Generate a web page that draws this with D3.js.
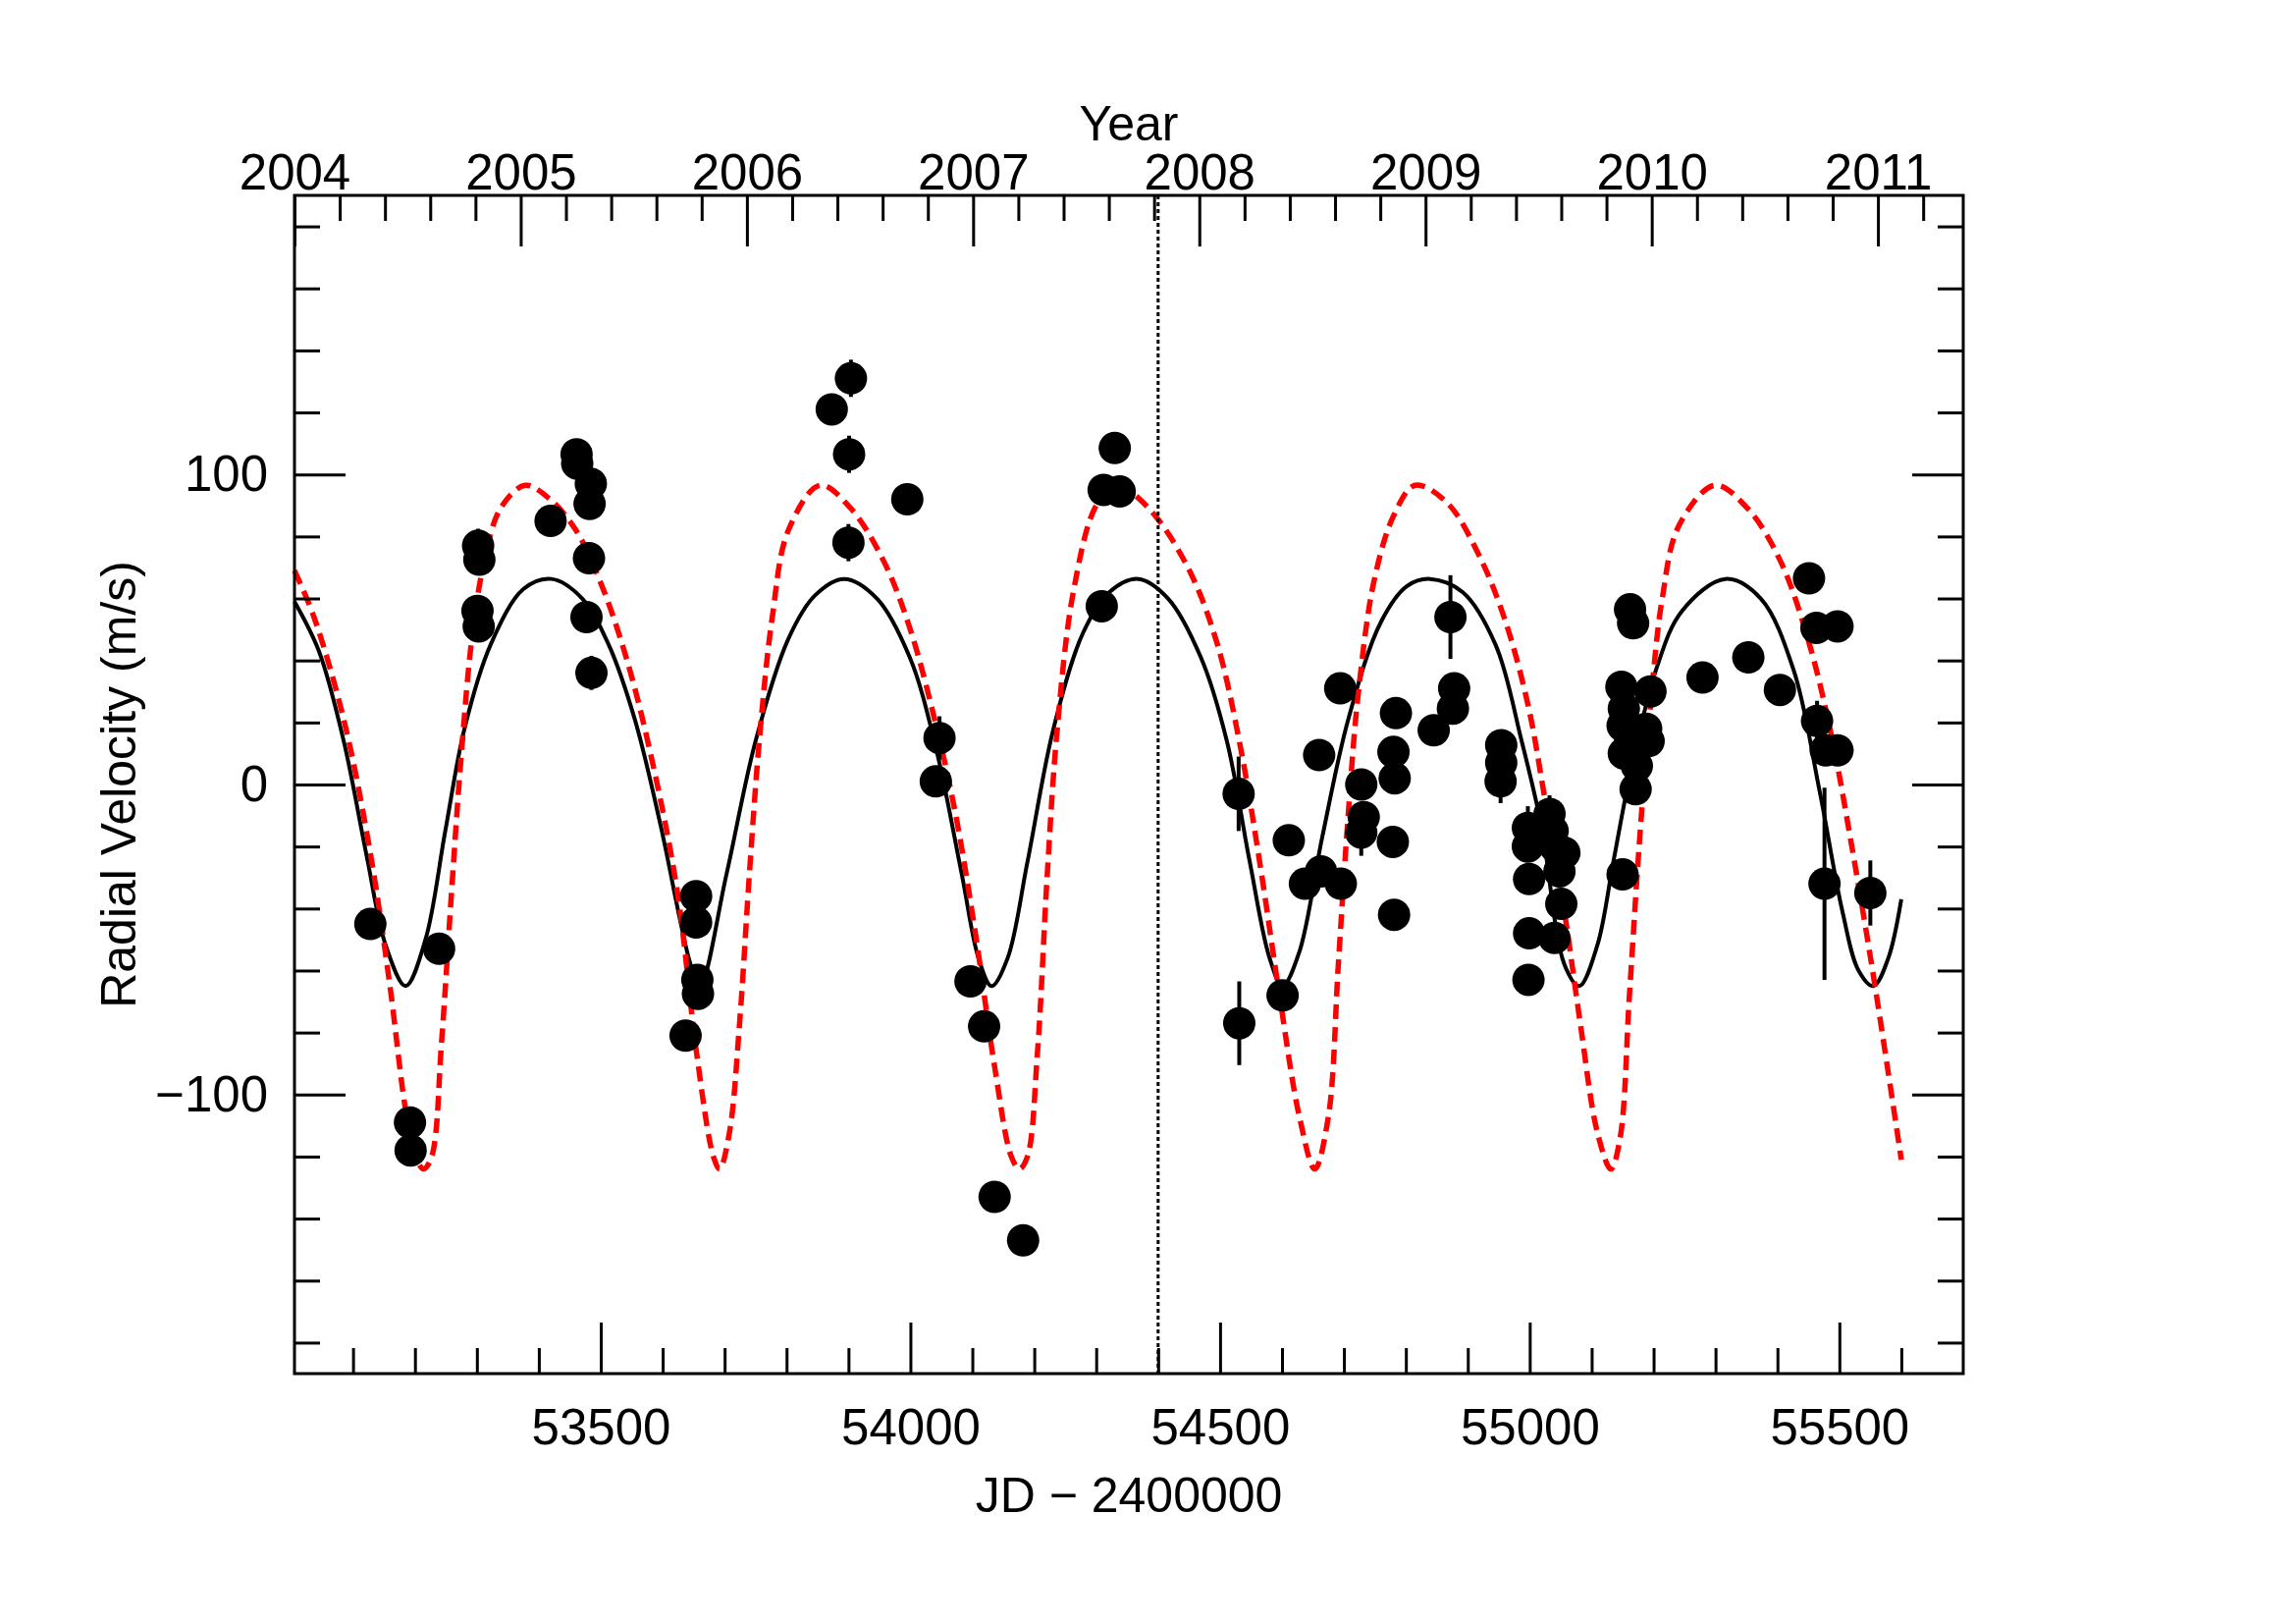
<!DOCTYPE html>
<html>
<head>
<meta charset="utf-8">
<script src="https://cdn.jsdelivr.net/npm/d3@7"></script>
<style>
  body { margin: 0; background: #fff; }
  text { font-family: "Liberation Sans", Arial, Helvetica, sans-serif; fill: #000; }
</style>
</head>
<body>
<svg id="chart" width="2339" height="1653"></svg>
<script>
// observations (JD - 2400000, m/s)
var obsJD = [53128, 53192, 53193, 53239, 53301, 53302, 53303, 53304, 53419, 53461, 53462, 53477,
  53481, 53482, 53484, 53485, 53637, 53654, 53654, 53656, 53657, 53873, 53900, 53901, 53904, 53995,
  54041, 54047, 54097, 54119, 54136, 54182, 54309, 54312, 54330, 54338, 54530, 54531, 54601, 54611,
  54637, 54660, 54663, 54694, 54695, 54728, 54728, 54732, 54779, 54780, 54781, 54782, 54784, 54845,
  54872, 54876, 54878, 54954, 54954, 54953, 54997, 54997, 54999, 54999, 54998, 55032, 55037, 55041,
  55040, 55048, 55051, 55056, 55148, 55150, 55150, 55152, 55152, 55162, 55162, 55167, 55171, 55173,
  55188, 55192, 55195, 55279, 55353, 55404, 55451, 55463, 55464, 55478, 55476, 55497, 55497, 55550];
var obsRV = [-45, -109, -118, -53, 56, 77, 51, 72.5, 85, 106.5, 103.5, 54,
  73, 90.5, 97, 36, -81, -36, -44.5, -63, -67.5, 121, 78, 106.5, 131, 92,
  1, 15, -63.5, -78, -133, -147, 57.5, 95, 108.5, 94.5, -3, -77, -68, -18,
  -32, 9.5, -28, 31, -32, 0, -15.5, -10.5, -18.5, 10.5, -42, 2, 23, 17.5,
  54, 24.5, 31, 12.7, 7, 1, -14, -20, -30.5, -48, -63, -9.5, -15, -20,
  -49.5, -28, -38.5, -22, 31.5, 19, -29, 24.5, 10, 56.5, 15, 52, -1.5, 6,
  18, 14, 30, 34.5, 41, 30.5, 66.5, 50.5, 20.5, 11, -32, 11, 51, -35];
var obsErr = [4, 4, 4, 4, 4, 5.5, 4, 4, 4, 4, 4, 4,
  4, 5, 4, 5.5, 4, 4, 4, 4, 4, 4, 6, 6, 6, 4,
  4, 7, 4, 4, 4, 4, 4, 4, 4, 4, 12, 13.5, 4, 4,
  4, 4, 4, 4, 4, 4, 7.5, 4, 4, 4, 4, 4, 4, 4,
  13.5, 4, 4, 4, 4, 7, 7, 4, 4, 4, 4, 6, 4, 4,
  4, 4, 4, 4, 4, 4, 4, 4, 4, 4, 4, 4, 4, 4,
  4, 4, 4, 4, 4, 4, 4, 4, 6.5, 4, 31, 4, 4, 10.5];

// solid black model curve
var fitJD = [53005.5, 53045, 53085, 53122, 53153, 53185, 53217, 53249, 53280, 53322, 53375, 53420,
  53470, 53513, 53555, 53597, 53629, 53645, 53660, 53703, 53750, 53803, 53846, 53893, 53946, 53999,
  54041, 54083, 54110, 54131, 54157, 54189, 54231, 54279, 54321, 54368, 54416, 54469, 54511, 54548,
  54580, 54601, 54628, 54665, 54707, 54760, 54802, 54839, 54892, 54945, 54987, 55019, 55056, 55080,
  55109, 55135, 55161, 55204, 55246, 55316, 55373, 55426, 55468, 55505, 55531, 55555, 55579, 55600];
var fitRV = [59, 43, 14, -23, -52, -65, -50, -15, 18, 45, 63, 66.3,
  60, 45, 21, -13.5, -44.5, -58, -65, -29, 14, 47, 61, 66.3, 60, 41,
  12, -29, -56, -65, -56, -25, 18, 49, 62, 66.3, 60, 41, 14, -25,
  -56, -65, -54, -17, 21, 52.5, 64, 66.3, 62, 45, 14, -13.5, -58, -65,
  -52, -25, 2, 37, 56, 66.3, 60, 37, -2, -41, -60, -65, -56, -37];

// dashed red model curve
var altJD = [53005.5, 53037, 53085, 53127, 53159, 53185, 53201, 53214, 53227, 53243, 53259, 53275,
  53293, 53312, 53338, 53378, 53418, 53460, 53502, 53544, 53587, 53624, 53655, 53682, 53692, 53708,
  53724, 53740, 53756, 53777, 53803, 53854, 53904, 53957, 53999, 54041, 54073, 54105, 54136, 54163,
  54176, 54189, 54205, 54221, 54237, 54263, 54300, 54332, 54358, 54400, 54453, 54496, 54533, 54564,
  54596, 54628, 54653, 54675, 54691, 54707, 54723, 54749, 54781, 54815, 54866, 54918, 54961, 54998,
  55024, 55056, 55082, 55109, 55131, 55146, 55161, 55177, 55193, 55214, 55241, 55299, 55352, 55405,
  55452, 55489, 55521, 55552, 55579, 55600];
var altRV = [69, 54, 21, -21, -64, -105, -120, -124, -120, -83, -35, 10,
  49, 72, 89, 96.5, 92, 82, 64, 39, 4, -35, -87, -120, -124, -112,
  -77.5, -29, 14, 54, 82, 96.5, 89, 72, 50.5, 19.5, -9.6, -48, -91, -120,
  -124, -120, -87, -29, 17.6, 62, 90, 96.5, 94, 85.5, 68, 45, 12, -25,
  -68, -107, -124, -107, -58, -9.6, 29, 66, 87, 96.5, 91, 74, 52.5, 25,
  -4, -41, -77.5, -112, -124, -114, -68, -19, 21, 60, 83.5, 96.5, 89, 72,
  45, 14, -21, -58, -93, -121];

var markJD = 54400;
var jdMajor = [53500, 54000, 54500, 55000, 55500];
var rvMajor = [-100, 0, 100];
var yearLabels = [2004, 2005, 2006, 2007, 2008, 2009, 2010, 2011];

var plotL = 300, plotR = 2000, plotT = 199, plotB = 1399;
var jdMin = 53005.5, jdMax = 55700;

var svg = d3.select('#chart');
svg.append('rect').attr('width', 2339).attr('height', 1653).attr('fill', '#fff');

var x = d3.scaleLinear().domain([jdMin, jdMax]).range([plotL, plotR]);
var y = d3.scaleLinear().domain([-190, 190]).range([plotB, plotT]);
var yr = d3.scaleLinear().domain([2004, 2004 + (jdMax - jdMin) / 365.25]).range([plotL, plotR]);

var plot = svg.append('g');

// model curves
var line = d3.line().curve(d3.curveCatmullRom.alpha(0.5));
plot.append('path')
  .attr('d', line(fitJD.map((d, i) => [x(d), y(fitRV[i])])))
  .attr('fill', 'none').attr('stroke', '#000').attr('stroke-width', 4);
plot.append('path')
  .attr('d', line(altJD.map((d, i) => [x(d), y(altRV[i])])))
  .attr('fill', 'none').attr('stroke', '#ff0000').attr('stroke-width', 5.5)
  .attr('stroke-dasharray', '15,8');

// dotted marker line
plot.append('line')
  .attr('x1', x(markJD)).attr('x2', x(markJD))
  .attr('y1', plotT).attr('y2', plotB)
  .attr('stroke', '#000').attr('stroke-width', 3).attr('stroke-dasharray', '4,3');

// error bars + points
plot.selectAll('line.err').data(obsJD).enter().append('line')
  .attr('class', 'err')
  .attr('x1', d => x(d)).attr('x2', d => x(d))
  .attr('y1', (d, i) => y(obsRV[i] - obsErr[i]))
  .attr('y2', (d, i) => y(obsRV[i] + obsErr[i]))
  .attr('stroke', '#000').attr('stroke-width', 4);
plot.selectAll('circle').data(obsJD).enter().append('circle')
  .attr('cx', d => x(d)).attr('cy', (d, i) => y(obsRV[i]))
  .attr('r', 16.5).attr('fill', '#000');

// axes
function styleAxis(g) {
  g.select('.domain').remove();
  g.selectAll('line').attr('stroke', '#000').attr('stroke-width', 3);
  g.selectAll('text').style('font-size', '51px').style('font-family', '"Liberation Sans", Arial, sans-serif');
}
var jdMinor = d3.range(53100, jdMax, 100).filter(d => jdMajor.indexOf(d) < 0);
svg.append('g').attr('transform', 'translate(0,' + plotB + ')')
  .call(d3.axisBottom(x).tickValues(jdMinor).tickSize(-26).tickFormat(''))
  .call(styleAxis);
svg.append('g').attr('transform', 'translate(0,' + plotB + ')')
  .call(d3.axisBottom(x).tickValues(jdMajor).tickSize(-52).tickPadding(36).tickFormat(d3.format('d')))
  .call(styleAxis);

var yrMinor = d3.range(1, 37).map(i => 2004 + i / 5).filter(d => Math.abs(d - Math.round(d)) > 0.01);
svg.append('g').attr('transform', 'translate(0,' + plotT + ')')
  .call(d3.axisTop(yr).tickValues(yrMinor).tickSize(-26).tickFormat(''))
  .call(styleAxis);
svg.append('g').attr('transform', 'translate(0,' + plotT + ')')
  .call(d3.axisTop(yr).tickValues(yearLabels).tickSize(-52).tickPadding(6).tickFormat(d3.format('d')))
  .call(styleAxis);

var rvMinor = d3.range(-180, 181, 20).filter(d => rvMajor.indexOf(d) < 0);
[['l', plotL], ['r', plotR]].forEach(function (s) {
  var mk = s[0] === 'l' ? d3.axisLeft : d3.axisRight;
  svg.append('g').attr('transform', 'translate(' + s[1] + ',0)')
    .call(mk(y).tickValues(rvMinor).tickSize(-26).tickFormat(''))
    .call(styleAxis);
  svg.append('g').attr('transform', 'translate(' + s[1] + ',0)')
    .call(mk(y).tickValues(rvMajor).tickSize(-52).tickPadding(27)
      .tickFormat(s[0] === 'l' ? d3.format('d') : ''))
    .call(styleAxis);
});

svg.append('rect')
  .attr('x', plotL).attr('y', plotT).attr('width', plotR - plotL).attr('height', plotB - plotT)
  .attr('fill', 'none').attr('stroke', '#000').attr('stroke-width', 3);

// titles
svg.append('text').attr('x', (plotL + plotR) / 2).attr('y', 143)
  .attr('text-anchor', 'middle').style('font-size', '50px').text('Year');
svg.append('text').attr('x', (plotL + plotR) / 2).attr('y', 1540)
  .attr('text-anchor', 'middle').style('font-size', '50px').text('JD \u2212 2400000');
svg.append('text').attr('transform', 'translate(138,' + y(0) + ') rotate(-90)')
  .attr('text-anchor', 'middle').style('font-size', '50px').text('Radial Velocity (m/s)');
</script>
</body>
</html>
